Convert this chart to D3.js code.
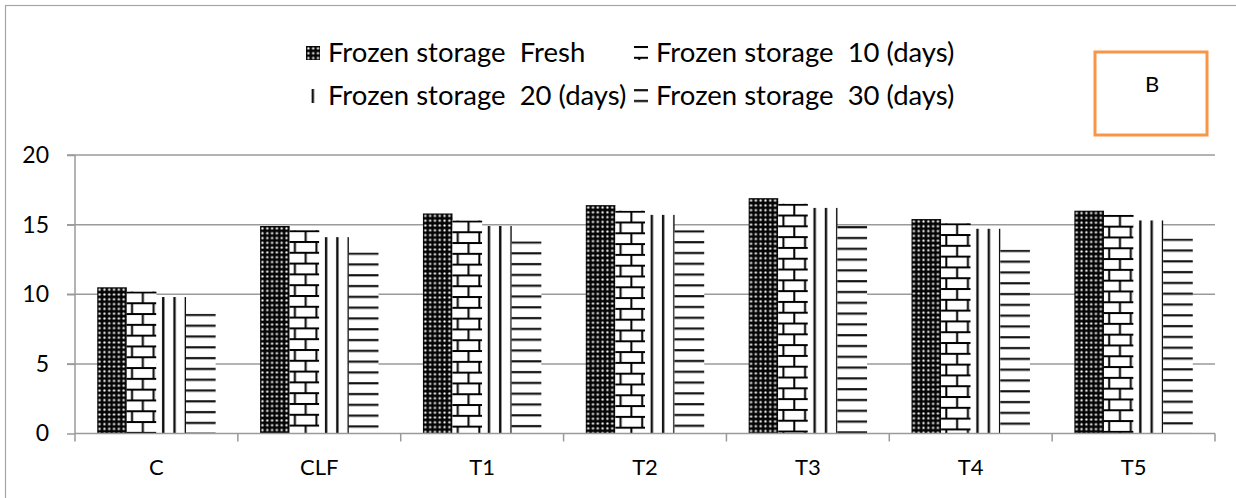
<!DOCTYPE html>
<html>
<head>
<meta charset="utf-8">
<script src="https://cdn.jsdelivr.net/npm/d3@7/dist/d3.min.js"></script>
<style>
  html, body { margin: 0; padding: 0; background: #fff; }
  svg { display: block; }
  text { font-family: Lato, "Open Sans", sans-serif; fill: #000; }
</style>
</head>
<body>
<svg id="chart" width="1236" height="498"></svg>
<script>
// ---- data ----
const categories = ["C", "CLF", "T1", "T2", "T3", "T4", "T5"];
const seriesNames = [
  "Frozen storage  Fresh",
  "Frozen storage  10 (days)",
  "Frozen storage  20 (days)",
  "Frozen storage  30 (days)"
];
const fresh  = [10.5, 14.9, 15.8, 16.4, 16.9, 15.4, 16.0];
const days10 = [10.2, 14.6, 15.3, 16.0, 16.5, 15.1, 15.7];
const days20 = [9.8, 14.1, 14.9, 15.7, 16.2, 14.7, 15.3];
const days30 = [8.6, 13.0, 13.8, 14.6, 14.9, 13.2, 14.0];
const yTicks = [0, 5, 10, 15, 20];
const panelLabel = "B";

const seriesValues = [fresh, days10, days20, days30];
const patternKinds = ["dots", "brick", "vlines", "hlines"];

// ---- layout ----
const svg = d3.select("#chart");
const pLeft = 75, pRight = 1215, pTop = 155, pBottom = 433.5;
const gridColor = "#9a9a9a";

const x = d3.scaleBand().domain(categories).range([pLeft, pRight]).paddingInner(0).paddingOuter(0);
const groupPad = x.bandwidth() * 0.1365;
const xs = d3.scaleBand().domain(d3.range(seriesNames.length))
  .range([groupPad, x.bandwidth() - groupPad]).padding(0);
const y = d3.scaleLinear().domain([0, 20]).range([pBottom, pTop]);

// outer frame
svg.append("rect").attr("x", 5.5).attr("y", 5.5).attr("width", 1240).attr("height", 500)
  .attr("fill", "none").attr("stroke", "#a6a6a6").attr("stroke-width", 1.2);

const defs = svg.append("defs");

function makePattern(id, kind, ox, oy) {
  const p = defs.append("pattern").attr("id", id).attr("patternUnits", "userSpaceOnUse")
    .attr("x", ox).attr("y", oy);
  if (kind === "dots") {
    const s = 4.8;
    p.attr("width", s).attr("height", s);
    p.append("rect").attr("width", s).attr("height", s).attr("fill", "#050505");
    p.append("circle").attr("cx", s / 2).attr("cy", s / 2).attr("r", 1.55).attr("fill", "#5a5a5a");
    p.append("circle").attr("cx", s / 2).attr("cy", s / 2).attr("r", 0.95).attr("fill", "#ffffff");
  } else if (kind === "brick") {
    const h = 10.8, w = 21.6;
    p.attr("width", w).attr("height", 2 * h);
    p.append("rect").attr("width", w).attr("height", 2 * h).attr("fill", "#fff");
    p.append("line").attr("x1", 0).attr("x2", w).attr("y1", 1).attr("y2", 1).attr("stroke", "#000").attr("stroke-width", 2);
    p.append("line").attr("x1", 0).attr("x2", w).attr("y1", h + 1).attr("y2", h + 1).attr("stroke", "#000").attr("stroke-width", 2);
    p.append("line").attr("x1", 16).attr("x2", 16).attr("y1", 0).attr("y2", h + 1).attr("stroke", "#000").attr("stroke-width", 2);
    p.append("line").attr("x1", 5.2).attr("x2", 5.2).attr("y1", h + 1).attr("y2", 2 * h).attr("stroke", "#000").attr("stroke-width", 2);
  } else if (kind === "vlines") {
    const w = 11.3;
    p.attr("width", w).attr("height", 10);
    p.append("rect").attr("width", w).attr("height", 10).attr("fill", "#fff");
    p.append("line").attr("x1", 6.8).attr("x2", 6.8).attr("y1", 0).attr("y2", 10).attr("stroke", "#111").attr("stroke-width", 2.4);
  } else {
    const h = 10.8;
    p.attr("width", 10).attr("height", h);
    p.append("rect").attr("width", 10).attr("height", h).attr("fill", "#fff");
    p.append("line").attr("x1", 0).attr("x2", 10).attr("y1", 1.2).attr("y2", 1.2).attr("stroke", "#111").attr("stroke-width", 2.2);
  }
}

// gridlines
svg.append("g").selectAll("line").data(yTicks.filter(d => d > 0)).join("line")
  .attr("x1", pLeft - 8).attr("x2", pRight)
  .attr("y1", d => y(d)).attr("y2", d => y(d))
  .attr("stroke", gridColor).attr("stroke-width", 1.5);

// bars
const barData = [];
categories.forEach((c, ci) => {
  seriesValues.forEach((vals, si) => {
    barData.push({ c, ci, si, v: vals[ci] });
  });
});
barData.forEach((d, i) => {
  const bx = x(d.c) + xs(d.si);
  const by = y(d.v);
  makePattern("pat" + i, patternKinds[d.si], bx, by);
  d.bx = bx; d.by = by; d.pid = "pat" + i;
});
svg.append("g").selectAll("rect").data(barData).join("rect")
  .attr("x", d => d.bx)
  .attr("y", d => d.by)
  .attr("width", xs.bandwidth())
  .attr("height", d => pBottom - d.by)
  .attr("fill", d => `url(#${d.pid})`);

// y axis
const yAxis = svg.append("g").attr("transform", `translate(${pLeft},0)`)
  .call(d3.axisLeft(y).tickValues(yTicks).tickSize(8).tickPadding(18).tickFormat(d3.format("d")));
yAxis.select(".domain").attr("stroke", gridColor).attr("stroke-width", 1.5).attr("d", `M0,${pBottom}V${pTop}`);
yAxis.selectAll(".tick line").attr("stroke", gridColor).attr("stroke-width", 1.5);
yAxis.selectAll(".tick text").attr("font-size", 23).attr("font-family", "Lato, sans-serif").attr("fill", "#000");

// x axis
const xAxis = svg.append("g").attr("transform", `translate(0,${pBottom})`)
  .call(d3.axisBottom(x).tickSize(0).tickPadding(26));
xAxis.select(".domain").attr("stroke", gridColor).attr("stroke-width", 1.5).attr("d", `M${pLeft},0H${pRight}`);
xAxis.selectAll(".tick text").attr("font-size", 22).attr("font-family", "Lato, sans-serif").attr("fill", "#000");
const bounds = categories.map(c => x(c)).concat([pRight]);
xAxis.append("g").selectAll("line").data(bounds).join("line")
  .attr("x1", d => d).attr("x2", d => d).attr("y1", 0).attr("y2", 8)
  .attr("stroke", gridColor).attr("stroke-width", 1.5);

// legend
const legendPos = [[306, 62], [634, 62], [306, 105], [634, 105]];
const keySize = 14;
seriesNames.forEach((name, i) => {
  const [lx, ly] = legendPos[i];
  const kx = lx, ky = ly - 16;
  makePattern("legpat" + i, patternKinds[i], kx, ky);
  svg.append("rect").attr("x", kx).attr("y", ky).attr("width", keySize).attr("height", keySize)
    .attr("fill", `url(#legpat${i})`);
  svg.append("text").attr("x", lx + 22).attr("y", ly).attr("font-size", 27.5)
    .attr("xml:space", "preserve").style("white-space", "pre").text(name);
});

// panel label box
svg.append("rect").attr("x", 1095).attr("y", 52).attr("width", 112).attr("height", 83)
  .attr("fill", "#fff").attr("stroke", "#f79646").attr("stroke-width", 3);
svg.append("text").attr("x", 1152).attr("y", 92).attr("text-anchor", "middle")
  .attr("font-size", 22).attr("fill", "#222").text(panelLabel);
</script>
</body>
</html>
